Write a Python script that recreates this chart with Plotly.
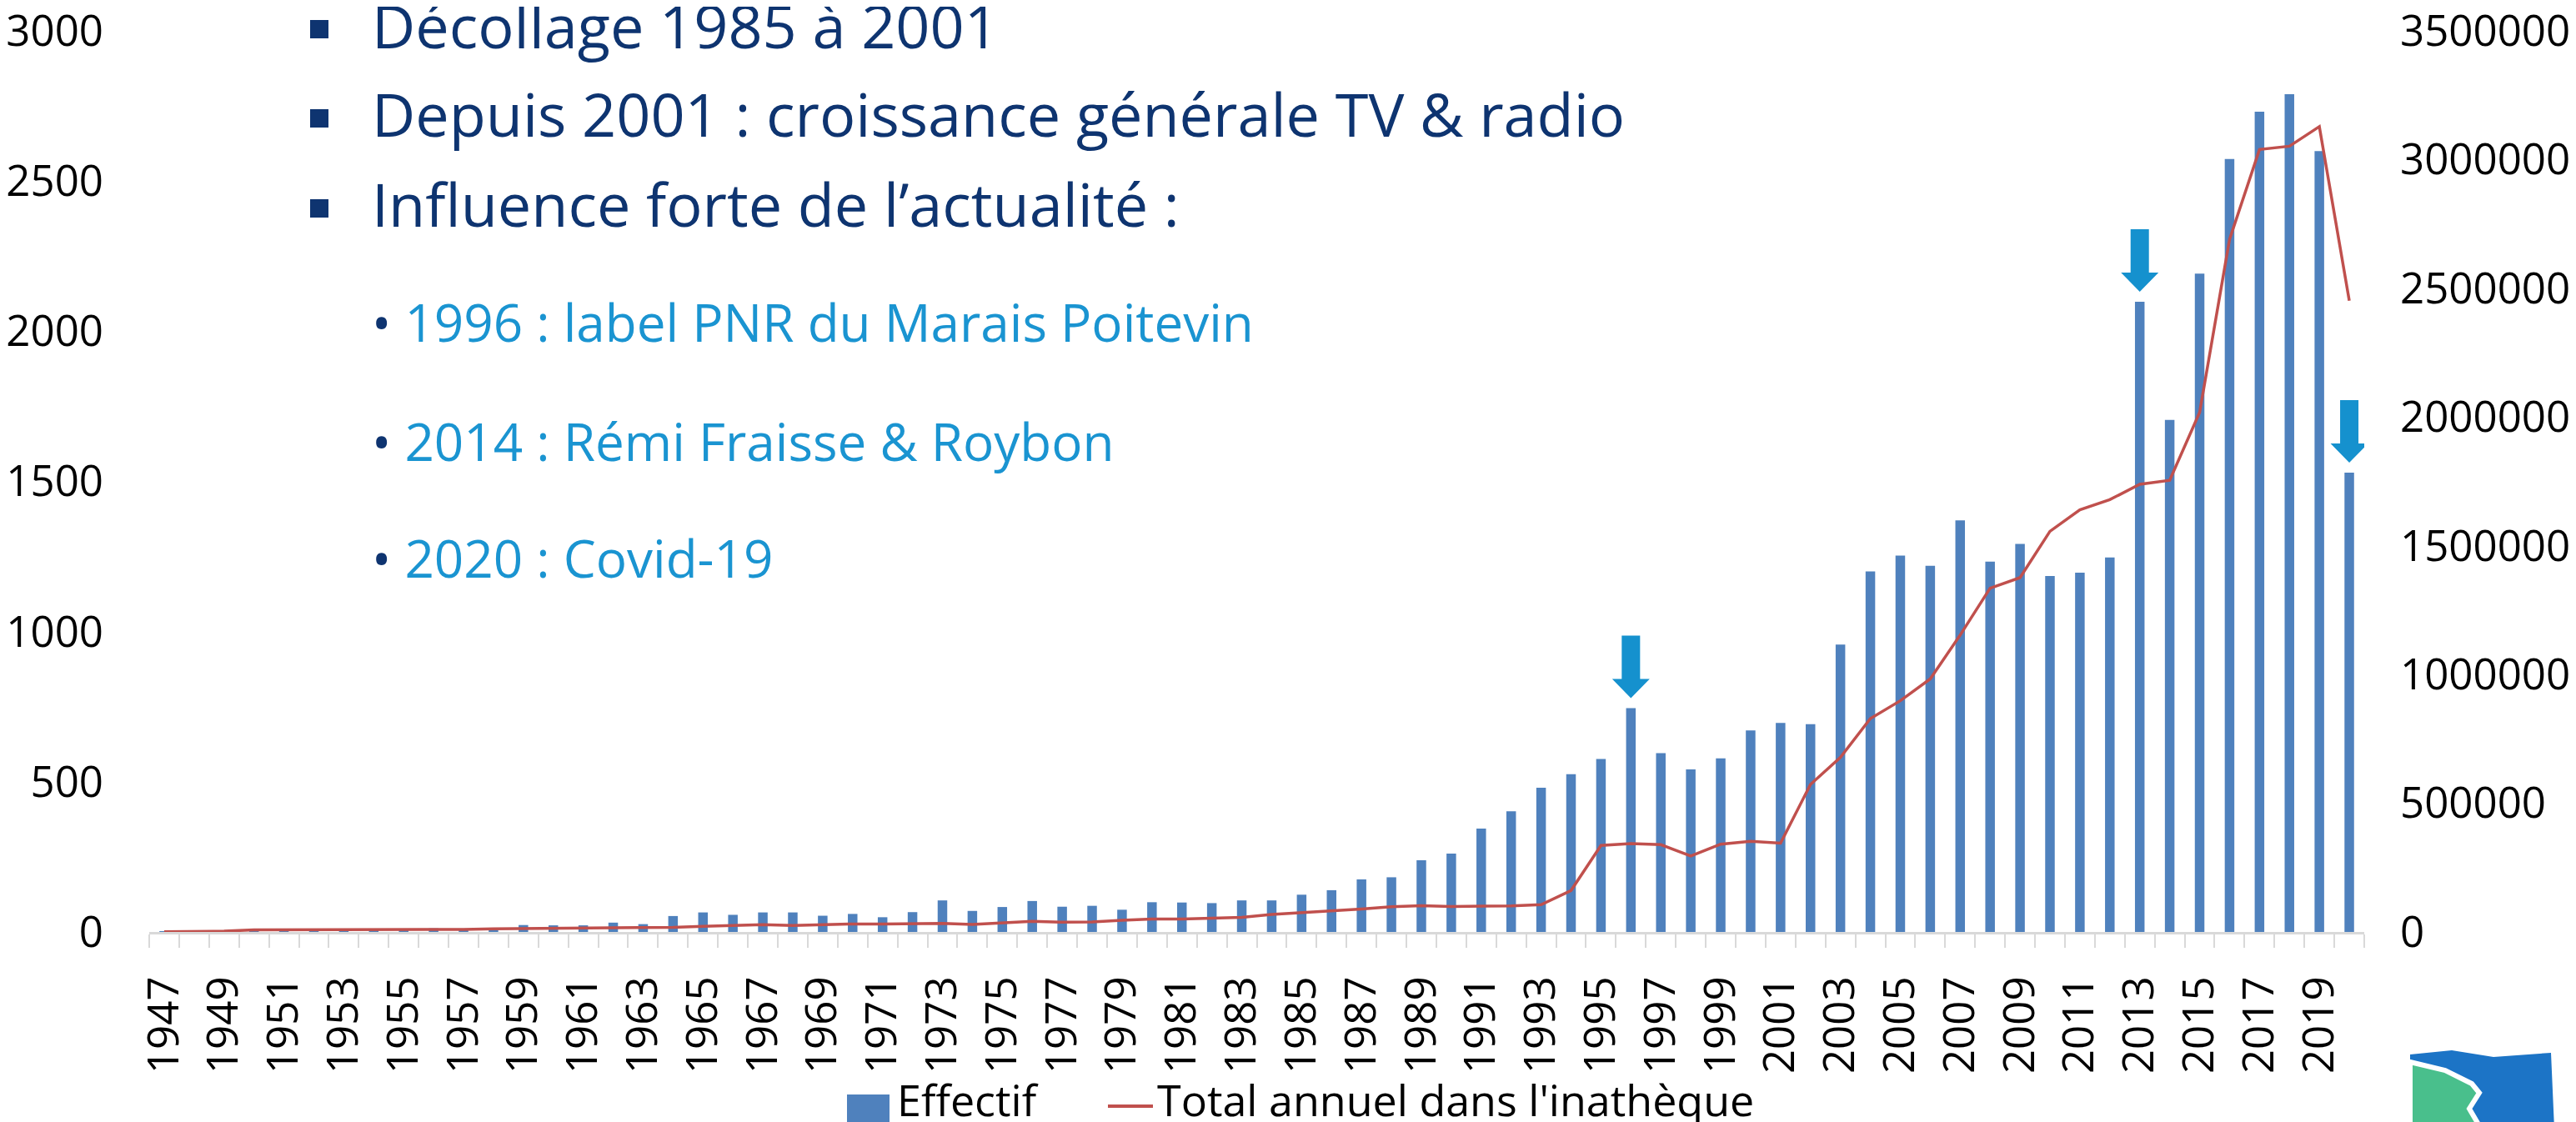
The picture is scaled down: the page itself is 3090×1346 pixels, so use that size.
import plotly.graph_objects as go

# ---------------- data ----------------
years = list(range(1947, 2021))
effectif = [2, 1, 1, 3, 1, 1, 2, 10, 3, 12,
            4, 8, 23, 22, 22, 31, 26, 53, 65, 57,
            65, 65, 54, 60, 49, 66, 105, 70, 83, 103,
            84, 87, 74, 99, 98, 96, 105, 105, 124, 139,
            175, 182, 239, 261, 344, 402, 480, 525, 576, 745,
            595, 541, 578, 671, 696, 692, 957, 1200, 1253, 1219,
            1370, 1233, 1292, 1185, 1196, 1247, 2098, 1705, 2192, 2573,
            2731, 2789, 2600, 1529]
total_annuel = [1000, 3000, 3000, 8000, 8000, 8000, 9000, 9000, 9500, 10000,
                10000, 12000, 13000, 14500, 16000, 17000, 18000, 18000, 22000, 25000,
                28000, 25000, 28000, 31000, 31000, 31000, 33000, 29000, 36000, 41000,
                38000, 39000, 45000, 50000, 50000, 53000, 57000, 68000, 75000, 80000,
                89000, 98000, 102000, 99000, 101000, 101000, 106000, 161000, 336000, 343000,
                339000, 295000, 341000, 352000, 345000, 573000, 678000, 829000, 898000, 983000,
                1153000, 1335000, 1376000, 1556000, 1640000, 1679000, 1739000, 1754000, 2018000, 2690000,
                3039000, 3052000, 3128000, 2452000]
tick_years = list(range(1947, 2021, 2))
tick_labels = [str(y) for y in tick_years]
left_ticks = [0, 500, 1000, 1500, 2000, 2500, 3000]
right_ticks = [0, 500000, 1000000, 1500000, 2000000, 2500000, 3000000, 3500000]
arrow_years = [1996, 2013, 2020]
main_points = ["Décollage 1985 à 2001",
               "Depuis 2001 : croissance générale TV & radio",
               "Influence forte de l’actualité :"]
events = ["1996 : label PNR du Marais Poitevin",
          "2014 : Rémi Fraisse & Roybon",
          "2020 : Covid-19"]
legend_names = ["Effectif", "Total annuel dans l'inathèque"]

assert len(years) == len(effectif) == len(total_annuel)

# ---------------- styles ----------------
W, H = 3090, 1346
L, R, T, B = 171, 262, 29, 236
PW, PH = W - L - R, H - T - B
BAR = "#4F81BD"
LINE = "#C0504D"
NAVY = "#0E3470"
LIGHT = "#1A94D1"
ARROW = "#1591CE"
AXIS_FONT = dict(family="Open Sans", size=51, color="#000000")
TXT_FONT = "Open Sans"


def px(x):
    return (x - L) / PW


def py(y):
    return (H - B - y) / PH


fig = go.Figure()
fig.add_trace(go.Bar(x=years, y=effectif, name=legend_names[0],
                     marker=dict(color=BAR, line=dict(width=0)), yaxis="y"))
fig.add_trace(go.Scatter(x=years, y=total_annuel, name=legend_names[1], mode="lines",
                         line=dict(color=LINE, width=3.5), yaxis="y2"))

shapes = []
annotations = []

# block arrows anchored on the bars
eff_by_year = dict(zip(years, effectif))
arrow_path = "M -11,87 L 11,87 L 11,35 L 22.5,35 L 0,12 L -22.5,35 L -11,35 Z"
for yr in arrow_years:
    shapes.append(dict(type="path", xref="x", yref="y",
                       xsizemode="pixel", ysizemode="pixel",
                       xanchor=yr, yanchor=eff_by_year[yr],
                       path=arrow_path, fillcolor=ARROW, line=dict(width=0)))

# main bullets
square_y = [27, 134, 242]
main_y = [22, 128, 236]
for txt, sy, yy in zip(main_points, square_y, main_y):
    shapes.append(dict(type="rect", xref="paper", yref="paper",
                       x0=px(364), x1=px(386), y0=py(sy + 11), y1=py(sy - 11),
                       fillcolor=NAVY, line=dict(width=0)))
    annotations.append(dict(text=txt, xref="paper", yref="paper", x=px(436), y=py(yy),
                            xanchor="left", yanchor="middle", showarrow=False,
                            font=dict(family=TXT_FONT, size=72, color=NAVY)))

# sub bullets
sub_y = [378, 521, 661]
for txt, yy in zip(events, sub_y):
    annotations.append(dict(text=f"<span style='color:{NAVY}'>•</span> {txt}",
                            xref="paper", yref="paper", x=px(436), y=py(yy),
                            xanchor="left", yanchor="middle", showarrow=False,
                            font=dict(family=TXT_FONT, size=62, color=LIGHT)))

# custom legend (large symbols as in the original)
shapes.append(dict(type="rect", xref="paper", yref="paper",
                   x0=px(1008), x1=px(1059), y0=py(1356), y1=py(1305),
                   fillcolor=BAR, line=dict(width=0)))
annotations.append(dict(text=legend_names[0], xref="paper", yref="paper", x=px(1066), y=py(1310),
                        xanchor="left", yanchor="middle", showarrow=False,
                        font=dict(family=TXT_FONT, size=52, color="#000000")))
shapes.append(dict(type="line", xref="paper", yref="paper",
                   x0=px(1321), x1=px(1375), y0=py(1319), y1=py(1319),
                   line=dict(color=LINE, width=4)))
annotations.append(dict(text=legend_names[1], xref="paper", yref="paper", x=px(1378), y=py(1310),
                        xanchor="left", yanchor="middle", showarrow=False,
                        font=dict(family=TXT_FONT, size=52, color="#000000")))

# partial logo at bottom right
shapes.append(dict(type="path", xref="paper", yref="paper",
                   path="M {} {} L {} {} L {} {} L {} {} L {} {} L {} {} Z".format(
                       px(2883), py(1257), px(2933), py(1252), px(2983), py(1260),
                       px(3052), py(1255), px(3056), py(1346), px(2883), py(1346)),
                   fillcolor="#1C74C6", line=dict(width=0)))
shapes.append(dict(type="path", xref="paper", yref="paper",
                   path="M {} {} L {} {} L {} {} L {} {} L {} {} L {} {} L {} {} Z".format(
                       px(2883), py(1266), px(2925), py(1276), px(2957), py(1292),
                       px(2966), py(1303), px(2954), py(1322), px(2968), py(1346), px(2883), py(1346)),
                   fillcolor="#49BF8C", line=dict(color="#FFFFFF", width=6)))

fig.update_layout(
    width=W, height=H,
    margin=dict(l=L, r=R, t=T, b=B, pad=0, autoexpand=False),
    paper_bgcolor="#FFFFFF", plot_bgcolor="#FFFFFF",
    showlegend=False, bargap=0.68,
    shapes=shapes, annotations=annotations,
    xaxis=dict(range=[1946.5, 2020.5], showgrid=False, zeroline=False, automargin=False,
               showline=True, linecolor="#D9D9D9", linewidth=3,
               tickmode="array", tickvals=tick_years, ticktext=tick_labels,
               tickangle=-90, ticks="outside", ticklen=16, tickcolor="rgba(0,0,0,0)",
               tickfont=AXIS_FONT, ticklabelstandoff=14,
               minor=dict(tick0=1946.5, dtick=1, ticks="outside", ticklen=16,
                          tickcolor="#D9D9D9", tickwidth=2, showgrid=False)),
    yaxis=dict(range=[0, 3000], tickmode="array", tickvals=left_ticks, automargin=False,
               showgrid=False, zeroline=False, showline=False, ticks="",
               tickfont=AXIS_FONT, ticklabelstandoff=54, ticklabeloverflow="allow"),
    yaxis2=dict(range=[0, 3500000], overlaying="y", side="right", tickmode="array",
                tickvals=right_ticks, ticktext=[str(v) for v in right_ticks], automargin=False,
                showgrid=False, zeroline=False, showline=False, ticks="",
                tickfont=AXIS_FONT, ticklabelstandoff=42, ticklabeloverflow="allow"),
)

fig.write_html("out.html")
